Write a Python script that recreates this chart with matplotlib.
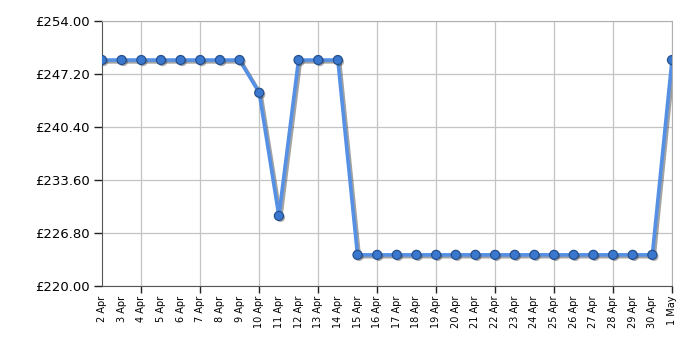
import matplotlib
matplotlib.use("Agg")
import matplotlib.pyplot as plt
import matplotlib.patheffects as pe
import numpy as np

dates = ["2 Apr", "3 Apr", "4 Apr", "5 Apr", "6 Apr", "7 Apr", "8 Apr", "9 Apr",
         "10 Apr", "11 Apr", "12 Apr", "13 Apr", "14 Apr", "15 Apr", "16 Apr",
         "17 Apr", "18 Apr", "19 Apr", "20 Apr", "21 Apr", "22 Apr", "23 Apr",
         "24 Apr", "25 Apr", "26 Apr", "27 Apr", "28 Apr", "29 Apr", "30 Apr", "1 May"]
prices = [248.99, 248.99, 248.99, 248.99, 248.99, 248.99, 248.99, 248.99,
          244.79, 228.99, 248.99, 248.99, 248.99, 223.99, 223.99,
          223.99, 223.99, 223.99, 223.99, 223.99, 223.99, 223.99,
          223.99, 223.99, 223.99, 223.99, 223.99, 223.99, 223.99, 248.99]
yticks = [220.00, 226.80, 233.60, 240.40, 247.20, 254.00]

fig = plt.figure(figsize=(7, 3.5), dpi=100)
ax = fig.add_axes([0.1457, 0.183, 0.8143, 0.757])

x = np.arange(len(dates))
shadow = [pe.SimpleLineShadow(offset=(1.3, -1.3), shadow_color="#333333", alpha=0.45), pe.Normal()]
ax.plot(x, prices, color="#5590e4", linewidth=2.6, zorder=3, path_effects=shadow,
        solid_joinstyle="round")
ax.plot(x, prices, linestyle="none", marker="o", markersize=6.5,
        markerfacecolor="#3a78d0", markeredgecolor="#26508c", markeredgewidth=0.9,
        zorder=4, path_effects=[pe.SimplePatchShadow(offset=(1.2, -1.2), shadow_rgbFace="#333333", alpha=0.4), pe.Normal()])

ax.set_xlim(0, len(dates) - 1)
ax.set_ylim(220, 254)

major = [i for i in range(len(dates)) if i % 3 == 2]
minor = [i for i in range(len(dates)) if i % 3 != 2]
ax.set_xticks(major)
ax.set_xticklabels([dates[i] for i in major], fontsize=7, rotation=90)
ax.set_xticks(minor, minor=True)
ax.set_xticklabels([dates[i] for i in minor], minor=True, fontsize=7, rotation=90)
ax.tick_params(axis="x", which="major", length=5, width=1, color="#222222", pad=2)
ax.tick_params(axis="x", which="minor", length=0, pad=7)

ax.set_yticks(yticks)
ax.set_yticklabels([f"£{v:.2f}" for v in yticks], fontsize=9.5)
ax.tick_params(axis="y", length=6, width=1, color="#222222", pad=3)

ax.grid(True, which="major", color="#c4c4c4", linewidth=0.9)
ax.set_axisbelow(True)
for s in ["top", "right"]:
    ax.spines[s].set_color("#b0b0b0")
for s in ["left", "bottom"]:
    ax.spines[s].set_color("#555555")

fig.savefig("out.png", dpi=100)
